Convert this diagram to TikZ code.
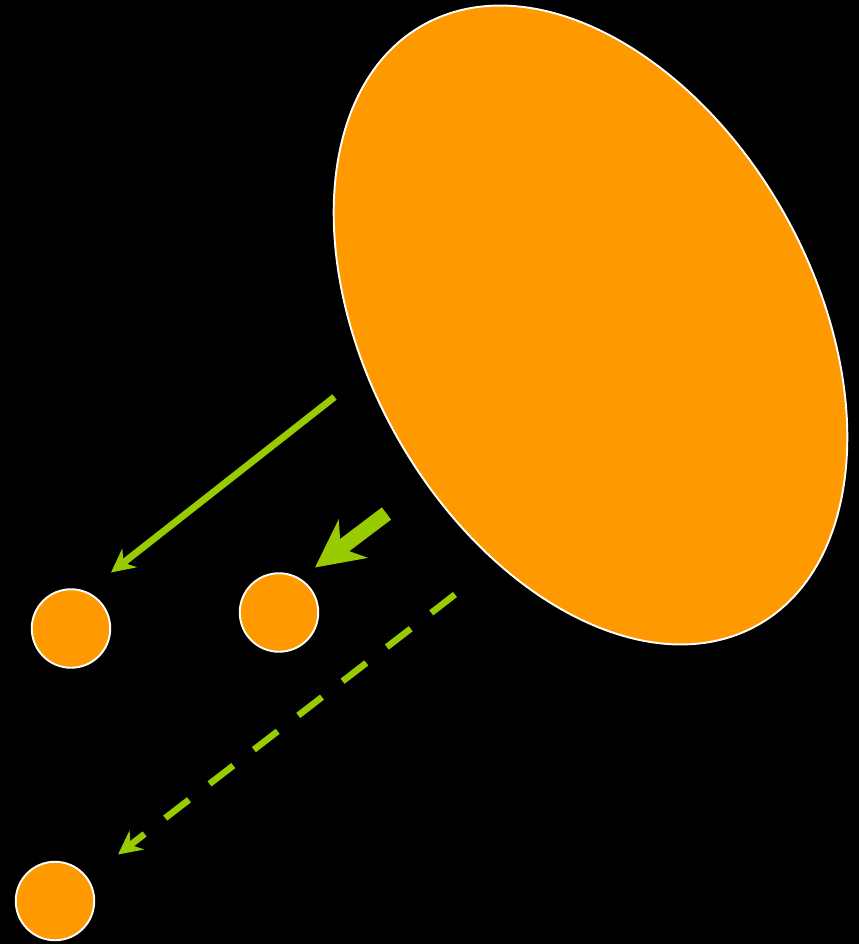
\documentclass[tikz,border=0pt]{standalone}
\usepackage{tikz}
\usetikzlibrary{arrows.meta,shapes.geometric}

\definecolor{orng}{HTML}{FF9900}
\definecolor{lime}{HTML}{99CC00}

\begin{document}
\begin{tikzpicture}[
    blob/.style={ellipse, draw=white, fill=orng, line width=1.1pt,
                inner sep=0pt, minimum width=13.74cm, minimum height=8.94cm},
    dot/.style={circle, draw=white, fill=orng, line width=1.1pt,
                inner sep=0pt, minimum size=1.57cm},
    arr/.style={-{Stealth[length=4.7mm, width=4.7mm]}, draw=lime, line width=3.9pt},
    fat/.style={-{Stealth[length=9.5mm, width=9.5mm]}, draw=lime, line width=8.7pt},
]

% --- Background ---
\fill[black] (0,0) rectangle (17.18,-18.88);
\useasboundingbox (0,0) rectangle (17.18,-18.88);

% --- Shapes ---
\node[blob, rotate=-61] (big) at (11.81,-6.50) {};
\node[dot] (c1) at (1.42,-12.57) {};
\node[dot] (c2) at (5.58,-12.25) {};
\node[dot] (c3) at (1.10,-18.02) {};

% --- Arrow ends ---
\coordinate (s1) at (6.69,-7.94);
\coordinate (t1) at (2.22,-11.45);
\coordinate (s2) at (7.73,-10.27);
\coordinate (t2) at (6.30,-11.35);
\coordinate (s3) at (9.10,-11.89);
\coordinate (t3) at (2.36,-17.09);

\draw[arr] (s1) -- (t1);
\draw[fat] (s2) -- (t2);
\draw[arr, line width=3.7pt, dash pattern=on 0.6cm off 0.52cm] (s3) -- (t3);

\end{tikzpicture}
\end{document}
